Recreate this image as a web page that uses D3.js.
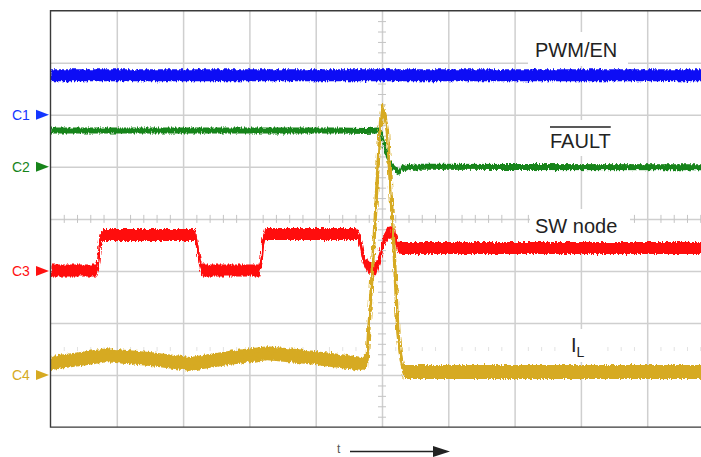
<!DOCTYPE html>
<html><head><meta charset="utf-8">
<script src="https://cdn.jsdelivr.net/npm/d3@7"></script>
<style>html,body{margin:0;padding:0;background:#fff;}svg{display:block;font-family:"Liberation Sans",Arial,sans-serif;}</style>
</head><body><svg id="c" width="701" height="457"></svg>
<script>
// ---- data (time and amplitude in scope divisions) ----
const channels = ["C1", "C2", "C3", "C4"];
const channelOffsets = [2, 1, -1, -3];
const traceNames = ["PWM/EN", "FAULT", "SW node", "I"];

const pwmT = [-5, -2, 0, 2, 5.2];
const pwmV = [2.76, 2.76, 2.76, 2.76, 2.76];

const faultT = [-5, -0.63, -0.26, -0.06, -0.01, 0.03, 0.08, 0.12, 0.17, 0.21, 0.26, 0.30, 0.36, 0.42, 0.50, 0.58, 5.2];
const faultV = [1.70, 1.70, 1.69, 1.70, 1.69, 1.42, 1.19, 1.07, 1.01, 0.94, 0.90, 1.00, 0.96, 1.00, 0.98, 1.00, 0.99];

const swT = [-5, -4.31, -4.28, -4.25, -4.22, -2.82, -2.79, -2.74, -2.70, -1.85, -1.82, -1.79, -1.76, -0.38, -0.33, -0.29, -0.23, -0.15, -0.09, -0.03, 0.03, 0.09, 0.15, 0.20, 0.23, 0.27, 5.2];
const swV = [-0.99, -0.99, -0.83, -0.41, -0.31, -0.31, -0.50, -0.89, -0.99, -0.99, -0.83, -0.41, -0.29, -0.29, -0.41, -0.72, -0.89, -0.98, -0.96, -0.73, -0.41, -0.27, -0.25, -0.33, -0.52, -0.56, -0.56];

const ilT = [-5, -4.55, -4.15, -3.50, -2.89, -2.29, -1.73, -1.24, -0.63, -0.30, -0.225, -0.12, -0.04, -0.01, 0.03, 0.08, 0.17, 0.24, 0.29, 0.33, 5.2];
const ilV = [-2.77, -2.69, -2.62, -2.69, -2.79, -2.67, -2.58, -2.64, -2.73, -2.79, -2.71, -0.41, 1.51, 2.05, 2.09, 1.70, -0.27, -2.19, -2.71, -2.94, -2.94];

// ---- layout ----
const svg = d3.select("#c");
const L = 50.5, T = 10.7, R = 713.5, B = 427.1;
const x = d3.scaleLinear().domain([-5, 5]).range([L, R]);
const y = d3.scaleLinear().domain([-4, 4]).range([B, T]);
const colors = ["#0a0af5", "#17841a", "#ff0a0a", "#d6aa22"];
const labelColors = ["#1437ff", "#17841a", "#ff1010", "#d6aa22"];
const halfBand = [6, 3, 6, 7];
const coreWidth = [2.6, 2.6, 2.6, 3.4];

const defs = svg.append("defs");
defs.append("clipPath").attr("id", "clip").append("rect")
  .attr("x", L).attr("y", T).attr("width", R - L).attr("height", B - T);
const f = defs.append("filter").attr("id", "noise")
  .attr("filterUnits", "userSpaceOnUse").attr("x", 0).attr("y", 0).attr("width", 720).attr("height", 460);
f.append("feTurbulence").attr("type", "fractalNoise").attr("baseFrequency", "0.7 0.15")
  .attr("numOctaves", 2).attr("seed", 3).attr("result", "t");
f.append("feDisplacementMap").attr("in", "SourceGraphic").attr("in2", "t")
  .attr("scale", 5).attr("xChannelSelector", "B").attr("yChannelSelector", "G");

// grid via axes
const gx = svg.append("g").attr("transform", `translate(0,${B})`)
  .call(d3.axisBottom(x).tickValues(d3.range(-4, 5)).tickSize(-(B - T)).tickFormat(""));
const gy = svg.append("g").attr("transform", `translate(${L},0)`)
  .call(d3.axisLeft(y).tickValues(d3.range(-3, 4)).tickSize(-(R - L)).tickFormat(""));
[gx, gy].forEach(g => {
  g.select(".domain").remove();
  g.selectAll(".tick line").attr("stroke", "#cfcfcf").attr("stroke-width", 1.5);
});

// center minor ticks
const minorX = d3.range(-25, 26).filter(i => i % 5 !== 0).map(i => i / 5);
const minorY = d3.range(-20, 21).filter(i => i % 5 !== 0).map(i => i / 5);
const mx = svg.append("g").attr("transform", `translate(0,${y(0) - 4})`)
  .call(d3.axisBottom(x).tickValues(minorX).tickSize(8).tickFormat(""));
const my = svg.append("g").attr("transform", `translate(${x(0) - 4},0)`)
  .call(d3.axisRight(y).tickValues(minorY).tickSize(8).tickFormat(""));
const mz = svg.append("g").attr("transform", `translate(0,${y(-2.5) - 2})`)
  .call(d3.axisBottom(x).tickValues(minorX).tickSize(4).tickFormat(""));
[mx, my].forEach(g => { g.select(".domain").remove(); g.selectAll(".tick line").attr("stroke", "#c4c4c4").attr("stroke-width", 1); });
mz.select(".domain").remove(); mz.selectAll(".tick line").attr("stroke", "#e2e2e2").attr("stroke-width", 1);

// label backgrounds
const bgs = [[528, 32, 100, 34], [540, 120, 84, 36], [530, 209, 100, 33], [560, 329, 36, 33]];
svg.selectAll("rect.bg").data(bgs).join("rect").attr("class", "bg")
  .attr("x", d => d[0]).attr("y", d => d[1]).attr("width", d => d[2]).attr("height", d => d[3]).attr("fill", "#fff");

// traces
const series = [[pwmT, pwmV], [faultT, faultV], [swT, swV], [ilT, ilV]];
const tg = svg.append("g").attr("clip-path", "url(#clip)");
series.forEach(([ts, vs], i) => {
  const pts = ts.map((t, k) => ({ t, v: vs[k] }));
  const g = tg.append("g").attr("filter", "url(#noise)");
  g.append("path").datum(pts).attr("fill", colors[i])
    .attr("d", d3.area().x(d => x(d.t)).y0(d => y(d.v) + halfBand[i]).y1(d => y(d.v) - halfBand[i]));
  g.append("path").datum(pts).attr("fill", "none").attr("stroke", colors[i]).attr("stroke-width", coreWidth[i])
    .attr("stroke-linejoin", "round")
    .attr("d", d3.line().x(d => x(d.t)).y(d => y(d.v)));
});

// border
svg.append("path").attr("d", `M${R},${T}H${L}V${B}H${R}`).attr("fill", "none")
  .attr("stroke", "#3a3a3a").attr("stroke-width", 1.4);

// channel markers
channels.forEach((c, i) => {
  const yy = y(channelOffsets[i]);
  svg.append("text").attr("x", 12).attr("y", yy + 5.2).attr("font-size", 14)
    .attr("fill", labelColors[i]).text(c);
  svg.append("path").attr("d", `M36,${yy - 5}L49,${yy}L36,${yy + 5}Z`).attr("fill", labelColors[i]);
});

// trace labels
const lab = (tx, xx, yy) => svg.append("text").attr("x", xx).attr("y", yy)
  .attr("font-size", 20).attr("fill", "#222").text(tx);
lab(traceNames[0], 535, 56.5);
const ft = lab(traceNames[1], 550, 148);
const fb = ft.node().getBBox();
svg.append("line").attr("x1", fb.x).attr("x2", fb.x + fb.width).attr("y1", 127).attr("y2", 127)
  .attr("stroke", "#222").attr("stroke-width", 1.5);
lab(traceNames[2], 535, 233);
const il = lab(traceNames[3], 571, 352);
il.append("tspan").attr("font-size", 14).attr("dy", 5).text("L");

// time arrow
svg.append("text").attr("x", 337).attr("y", 452.5).attr("font-size", 12).attr("fill", "#555").text("t");
svg.append("line").attr("x1", 350).attr("x2", 436).attr("y1", 451.5).attr("y2", 451.5)
  .attr("stroke", "#222").attr("stroke-width", 1.5);
svg.append("path").attr("d", "M433,446L450,451.5L433,457Z").attr("fill", "#222");
</script></body></html>
